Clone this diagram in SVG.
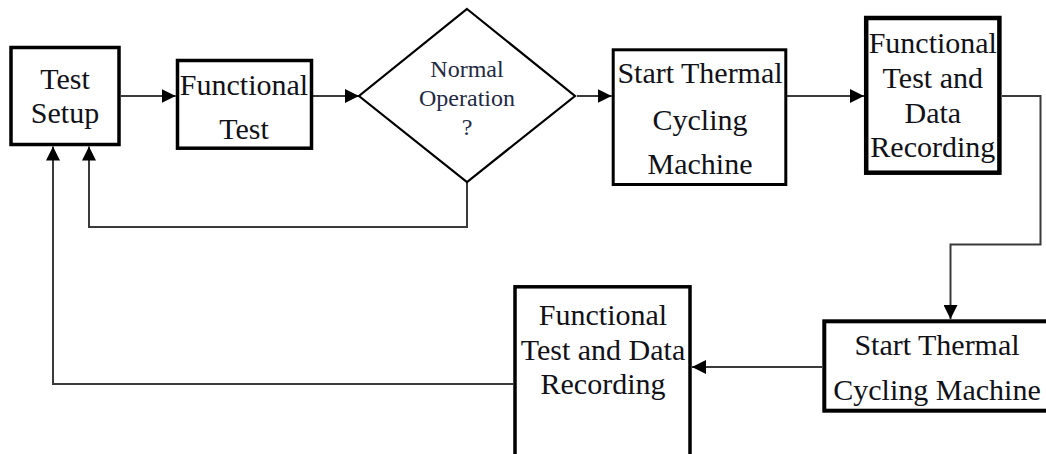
<svg xmlns="http://www.w3.org/2000/svg" width="1046" height="454" viewBox="0 0 1046 454">
<defs>
<marker id="ah" markerUnits="userSpaceOnUse" markerWidth="15" markerHeight="14" refX="14" refY="7" orient="auto">
<path d="M0,0 L14,7 L0,14 z" fill="#000"/>
</marker>
<style>
.box{fill:#fff;stroke:#000}
.t{font-family:"Liberation Serif","Times New Roman",serif;font-size:30px;fill:#111118;text-anchor:middle}
.d{font-family:"Liberation Serif","Times New Roman",serif;font-size:24px;fill:#1f2a44;text-anchor:middle}
.c{fill:none;stroke:#3a3a3a;stroke-width:2}
</style>
</defs>
<rect width="1046" height="454" fill="#fff"/>
<g id="connectors">
<path class="c" d="M121,96 H175.7" marker-end="url(#ah)"/>
<path class="c" d="M313,96 H359" marker-end="url(#ah)"/>
<path class="c" d="M577,96 H611.7" marker-end="url(#ah)"/>
<path class="c" d="M787,96 H864" marker-end="url(#ah)"/>
<path class="c" d="M1002,96 H1040.5 V244.5 H950.5 V319" marker-end="url(#ah)"/>
<path class="c" d="M822,367 H692" marker-end="url(#ah)"/>
<path class="c" d="M513,384 H53 V146.5" marker-end="url(#ah)"/>
<path class="c" d="M467,182 V227 H89 V146.5" marker-end="url(#ah)"/>
</g>
<g id="test-setup">
<rect class="box" x="11" y="47.5" width="108" height="97" stroke-width="3.5"/>
<text class="t" x="65" y="89">Test</text>
<text class="t" x="65" y="123">Setup</text>
</g>
<g id="functional-test">
<rect class="box" x="177.5" y="60.5" width="134" height="87.7" stroke-width="3.5"/>
<text class="t" x="244" y="95">Functional</text>
<text class="t" x="244" y="139">Test</text>
</g>
<g id="normal-operation">
<polygon points="467,9 575,96 467,182 359,96" fill="#fff" stroke="#000" stroke-width="2.2"/>
<text class="d" x="467" y="77">Normal</text>
<text class="d" x="467" y="106">Operation</text>
<text class="d" x="467" y="135">?</text>
</g>
<g id="start-thermal-1">
<rect class="box" x="613.2" y="49.8" width="172.6" height="134.7" stroke-width="3"/>
<text class="t" x="700" y="83">Start Thermal</text>
<text class="t" x="700" y="130">Cycling</text>
<text class="t" x="700" y="174">Machine</text>
</g>
<g id="functional-data-1">
<rect class="box" x="866.2" y="18" width="133.2" height="154.7" stroke-width="4.5"/>
<text class="t" x="932.8" y="53">Functional</text>
<text class="t" x="932.8" y="88">Test and</text>
<text class="t" x="932.8" y="123">Data</text>
<text class="t" x="932.8" y="157">Recording</text>
</g>
<g id="start-thermal-2">
<rect class="box" x="824.3" y="321.3" width="240" height="89.4" stroke-width="4"/>
<text class="t" x="937" y="355">Start Thermal</text>
<text class="t" x="937" y="400">Cycling Machine</text>
</g>
<g id="functional-data-2">
<rect class="box" x="515" y="286.8" width="175" height="200" stroke-width="3.5"/>
<text class="t" x="603" y="325">Functional</text>
<text class="t" x="603" y="360">Test and Data</text>
<text class="t" x="603" y="394">Recording</text>
</g>
</svg>
